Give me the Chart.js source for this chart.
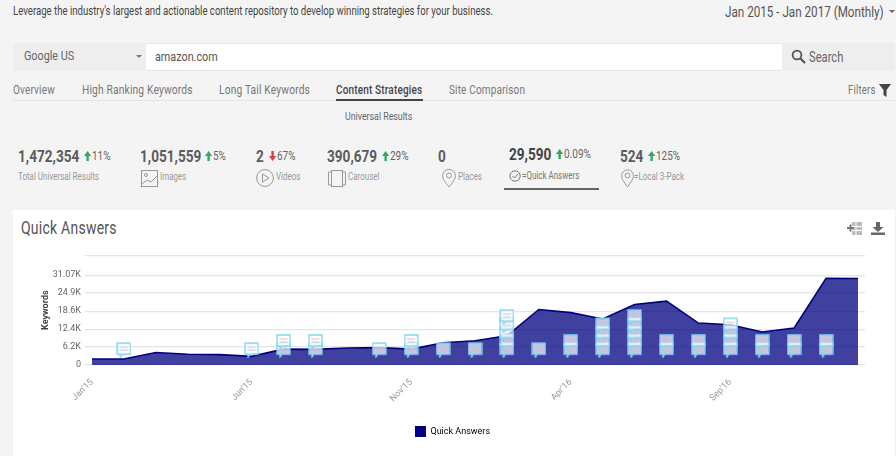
<!DOCTYPE html>
<html>
<head>
<meta charset="utf-8">
<title>Quick Answers</title>
<script src="https://cdn.jsdelivr.net/npm/chart.js@4"></script>
<style>
html, body { margin: 0; padding: 0; width: 896px; height: 456px; overflow: hidden; background: #f4f4f4; }
body { font-family: Roboto, sans-serif; color: #555; position: relative; }
.t { position: absolute; white-space: nowrap; line-height: 1; transform: scaleX(.8); transform-origin: left center; }
.box { position: absolute; }
.num { font-size: 17px; font-weight: bold; color: #5c5c5c; }
.up { font-size: 12.5px; color: #666; }
.up svg { position: static; width: 9px; height: 10px; margin-right: 1px; vertical-align: -1px; fill: #2eaa62; }
.up svg.down { fill: #e0394a; }
.lbl { font-size: 10px; color: #999; }
.tab { font-size: 12.5px; color: #777; letter-spacing: .2px; }
svg { position: absolute; overflow: visible; }
#card { position: absolute; left: 13px; top: 210px; width: 882px; height: 246px; background: #fff; }
#chartWrap { position: absolute; left: 13px; top: 210px; width: 883px; height: 246px; }
</style>
</head>
<body>
<svg width="0" height="0"><defs>
<path id="arrowUp" d="M4.5 0L9 5H6V10H3V5H0Z"/>
<path id="arrowDown" d="M4.5 10L9 5H6V0H3V5H0Z"/>
</defs></svg>
<div class="t" style="left:13px;top:5px;font-size:12px;color:#444">Leverage the industry's largest and actionable content repository to develop winning strategies for your business.</div>
<div class="t" style="left:725px;top:5px;font-size:14.6px;color:#555">Jan 2015 - Jan 2017 (Monthly)</div>
<div class="box" style="left:889px;top:10px;border:3px solid transparent;border-top-color:#666"></div>

<div class="box" style="left:13px;top:43px;width:882px;height:28px;background:#fff;border:1px solid #e6e6e6;box-sizing:border-box"></div>
<div class="box" style="left:13px;top:43px;width:133px;height:28px;background:#eee"></div>
<div class="t" style="left:24px;top:49px;font-size:13.5px;color:#666">Google US</div>
<div class="box" style="left:136px;top:55px;border:3px solid transparent;border-top-color:#777"></div>
<div class="t" style="left:155px;top:50px;font-size:13.5px;color:#555">amazon.com</div>
<div class="box" style="left:782px;top:43px;width:113px;height:28px;background:#eee"></div>
<svg style="left:791px;top:49px" width="15" height="15"><circle cx="6" cy="6" r="4.4" fill="none" stroke="#555" stroke-width="1.8"/><line x1="9.5" y1="9.5" x2="14" y2="14" stroke="#555" stroke-width="2.2"/></svg>
<div class="t" style="left:809px;top:50px;font-size:14px;color:#666">Search</div>

<div class="t tab" style="left:13px;top:84px">Overview</div>
<div class="t tab" style="left:82px;top:84px;font-size:12.8px">High Ranking Keywords</div>
<div class="t tab" style="left:219px;top:84px;font-size:12.8px">Long Tail Keywords</div>
<div class="t tab" style="left:336px;top:84px;color:#444;font-weight:500">Content Strategies</div>
<div class="t tab" style="left:449px;top:84px">Site Comparison</div>
<div class="t tab" style="left:848px;top:84px;font-size:12px">Filters</div>
<svg style="left:879px;top:84px" width="12" height="13"><path d="M0 0H12L7.5 6V13L4.5 11V6Z" fill="#444"/></svg>
<div class="box" style="left:13px;top:100px;width:882px;height:1px;background:#e4e4e4"></div>
<div class="box" style="left:336px;top:99px;width:87px;height:2px;background:#444"></div>
<div class="t" style="left:345px;top:111px;font-size:11px;color:#666">Universal Results</div>

<div class="t num" style="left:18px;top:148px">1,472,354</div>
<div class="t up" style="left:84px;top:150px"><svg><use href="#arrowUp"/></svg>11%</div>
<div class="t lbl" style="left:18px;top:172px">Total Universal Results</div>

<div class="t num" style="left:140px;top:148px">1,051,559</div>
<div class="t up" style="left:205px;top:150px"><svg><use href="#arrowUp"/></svg>5%</div>
<svg style="left:141px;top:170px" width="17" height="17"><rect x=".5" y=".5" width="16" height="16" fill="none" stroke="#999"/><circle cx="5" cy="5" r="1.5" fill="none" stroke="#999"/><path d="M1 14L6 10L10 12L16 6" fill="none" stroke="#999"/></svg>
<div class="t lbl" style="left:160px;top:172px">Images</div>

<div class="t num" style="left:256px;top:148px">2</div>
<div class="t up" style="left:269px;top:150px"><svg class="down"><use href="#arrowDown"/></svg>67%</div>
<svg style="left:256px;top:169px" width="19" height="19"><circle cx="9" cy="9" r="8.4" fill="none" stroke="#999"/><path d="M6.5 5L13 9L6.5 13Z" fill="none" stroke="#999"/></svg>
<div class="t lbl" style="left:276px;top:172px">Videos</div>

<div class="t num" style="left:327px;top:148px">390,679</div>
<div class="t up" style="left:382px;top:150px"><svg><use href="#arrowUp"/></svg>29%</div>
<svg style="left:328px;top:170px" width="19" height="17"><rect x="3.5" y=".5" width="11" height="16" fill="none" stroke="#999"/><path d="M3 2H.5V15H3M15 2H17.5V15H15" fill="none" stroke="#999"/></svg>
<div class="t lbl" style="left:348px;top:172px">Carousel</div>

<div class="t num" style="left:438px;top:148px">0</div>
<svg style="left:442px;top:169px" width="14" height="19"><path d="M7 18C3 13 .6 10 .6 6.8A6.4 6.4 0 0 1 13.4 6.8C13.4 10 11 13 7 18Z" fill="none" stroke="#999"/><circle cx="7" cy="6.5" r="2.5" fill="none" stroke="#999"/></svg>
<div class="t lbl" style="left:458px;top:172px">Places</div>

<div class="t num" style="left:509px;top:146px;color:#444">29,590</div>
<div class="t up" style="left:556px;top:148px"><svg><use href="#arrowUp"/></svg>0.09%</div>
<svg style="left:509px;top:170px" width="13" height="13"><circle cx="6" cy="6" r="5.2" fill="none" stroke="#777"/><path d="M3.5 6L5.5 8L8.8 4.2" fill="none" stroke="#777"/></svg>
<div class="t lbl" style="left:522px;top:171px;color:#777">=Quick Answers</div>
<div class="box" style="left:504px;top:188px;width:95px;height:2px;background:#666"></div>

<div class="t num" style="left:620px;top:148px">524</div>
<div class="t up" style="left:648px;top:150px"><svg><use href="#arrowUp"/></svg>125%</div>
<svg style="left:621px;top:169px" width="13" height="19"><path d="M6.5 18C3 13 .6 10 .6 6.8A5.9 5.9 0 0 1 12.4 6.8C12.4 10 10 13 6.5 18Z" fill="none" stroke="#999"/><circle cx="6.5" cy="6.5" r="2.4" fill="none" stroke="#999"/></svg>
<div class="t lbl" style="left:634px;top:172px">=Local 3-Pack</div>

<div id="card"></div>
<div class="t" style="left:21px;top:220px;font-size:17.5px;color:#555;letter-spacing:.3px">Quick Answers</div>
<svg style="left:847px;top:221px" width="16" height="15"><rect x="5" y="1" width="10" height="13" fill="#bbb"/><path d="M9 1V14M5 5.5H15M5 9.5H15" stroke="#fff"/><path d="M0 7H7M3.5 3.5V10.5" stroke="#777" stroke-width="2"/></svg>
<svg style="left:871px;top:222px" width="14" height="13"><path d="M5 0H9V5H12.5L7 10L1.5 5H5Z M0 10.5H14V13H0Z" fill="#666"/></svg>

<div id="chartWrap"><canvas id="quickAnswersChart" width="883" height="246"></canvas></div>

<script>
// Aylar (x ekseni)
const months = ["Jan'15","Feb'15","Mar'15","Apr'15","May'15","Jun'15","Jul'15","Aug'15","Sep'15","Oct'15","Nov'15","Dec'15",
    "Jan'16","Feb'16","Mar'16","Apr'16","May'16","Jun'16","Jul'16","Aug'16","Sep'16","Oct'16","Nov'16","Dec'16","Jan'17"];
// Keywords, bin cinsinden
const quickAnswers = [2.1,2.1,4.3,3.7,3.6,3.0,5.5,5.4,5.9,6.0,5.5,7.7,8.4,10.1,19.2,18.1,15.9,20.9,22.1,14.5,13.9,11.4,12.8,30.0,29.9];
// Her aydaki not simgesi sayisi
const noteCounts = [0,1,0,0,0,1,2,2,0,1,2,1,1,5,1,2,4,5,2,2,4,2,2,2,0];
const xTickIndexes = [0,5,10,15,20];
const yTickValues = [0,6.2,12.4,18.6,24.9,31.07,37.7];
const yTickLabels = ['0','6.2K','12.4K','18.6K','24.9K','31.07K',' '];

const chartFont = 'Roboto';

// Konusma balonu simgesi
function makeNoteIcon() {
    const c = document.createElement('canvas');
    c.width = 15;
    c.height = 17;
    const g = c.getContext('2d');
    g.fillStyle = 'rgba(255,255,255,0.7)';
    g.strokeStyle = '#7fd4f2';
    g.lineWidth = 1.3;
    g.beginPath();
    g.moveTo(1, 2);
    g.lineTo(14, 2);
    g.lineTo(14, 13);
    g.lineTo(6, 13);
    g.lineTo(4, 16);
    g.lineTo(4, 13);
    g.lineTo(1, 13);
    g.closePath();
    g.fill();
    g.stroke();
    g.strokeStyle = '#c4c4cc';
    g.lineWidth = 1;
    g.beginPath();
    g.moveTo(3.5, 6); g.lineTo(11.5, 6);
    g.moveTo(3.5, 9); g.lineTo(11.5, 9);
    g.stroke();
    return c;
}

// Simge noktalari: aylik sayidan yigin olustur
const notePoints = [];
noteCounts.forEach((count, i) => {
    for (let k = 0; k < count; k++) {
        notePoints.push({ x: i, y: 5.3 + k * 2.86 });
    }
});

new Chart(document.getElementById('quickAnswersChart').getContext('2d'), {
    type: 'line',
    data: {
        datasets: [{
            label: 'Quick Answers',
            data: quickAnswers.map((v, i) => ({ x: i, y: v })),
            borderColor: '#000080',
            backgroundColor: 'rgba(0,0,128,0.75)',
            borderWidth: 1.6,
            fill: 'origin',
            tension: 0,
            pointRadius: 0,
            order: 2
        }, {
            label: 'notes',
            data: notePoints,
            showLine: false,
            pointStyle: makeNoteIcon(),
            order: 1
        }]
    },
    options: {
        responsive: false,
        animation: false,
        layout: { padding: { left: 27, right: 31, top: 45.4, bottom: 9 } },
        plugins: {
            tooltip: { enabled: false },
            legend: {
                position: 'bottom',
                labels: {
                    boxWidth: 11,
                    boxHeight: 11,
                    padding: 10,
                    color: '#666',
                    font: { family: chartFont, size: 9 },
                    generateLabels: () => [{ text: 'Quick Answers', fillStyle: '#000080', lineWidth: 0, datasetIndex: 0 }]
                }
            }
        },
        scales: {
            x: {
                type: 'linear',
                min: -0.22,
                max: 24.22,
                grid: { display: false },
                border: { display: false },
                afterBuildTicks: axis => { axis.ticks = xTickIndexes.map(v => ({ value: v })); },
                afterFit: axis => { axis.height = 51; },
                ticks: {
                    autoSkip: false,
                    minRotation: 45,
                    maxRotation: 45,
                    color: '#999',
                    padding: 4,
                    font: { family: chartFont, size: 9 },
                    callback: value => months[value]
                }
            },
            y: {
                min: 0,
                max: 37.9,
                grid: { color: '#e4e4e4', lineWidth: 1.2, drawTicks: false },
                border: { display: false },
                afterBuildTicks: axis => { axis.ticks = yTickValues.map(v => ({ value: v })); },
                afterFit: axis => { axis.width = 45; },
                title: {
                    display: true,
                    text: 'Keywords',
                    color: '#444',
                    padding: 0,
                    font: { family: chartFont, size: 9, weight: 'bold' }
                },
                ticks: {
                    autoSkip: false,
                    color: '#666',
                    padding: 4,
                    font: { family: chartFont, size: 9 },
                    callback: value => yTickLabels[yTickValues.indexOf(value)]
                }
            }
        }
    }
});
</script>
</body>
</html>
